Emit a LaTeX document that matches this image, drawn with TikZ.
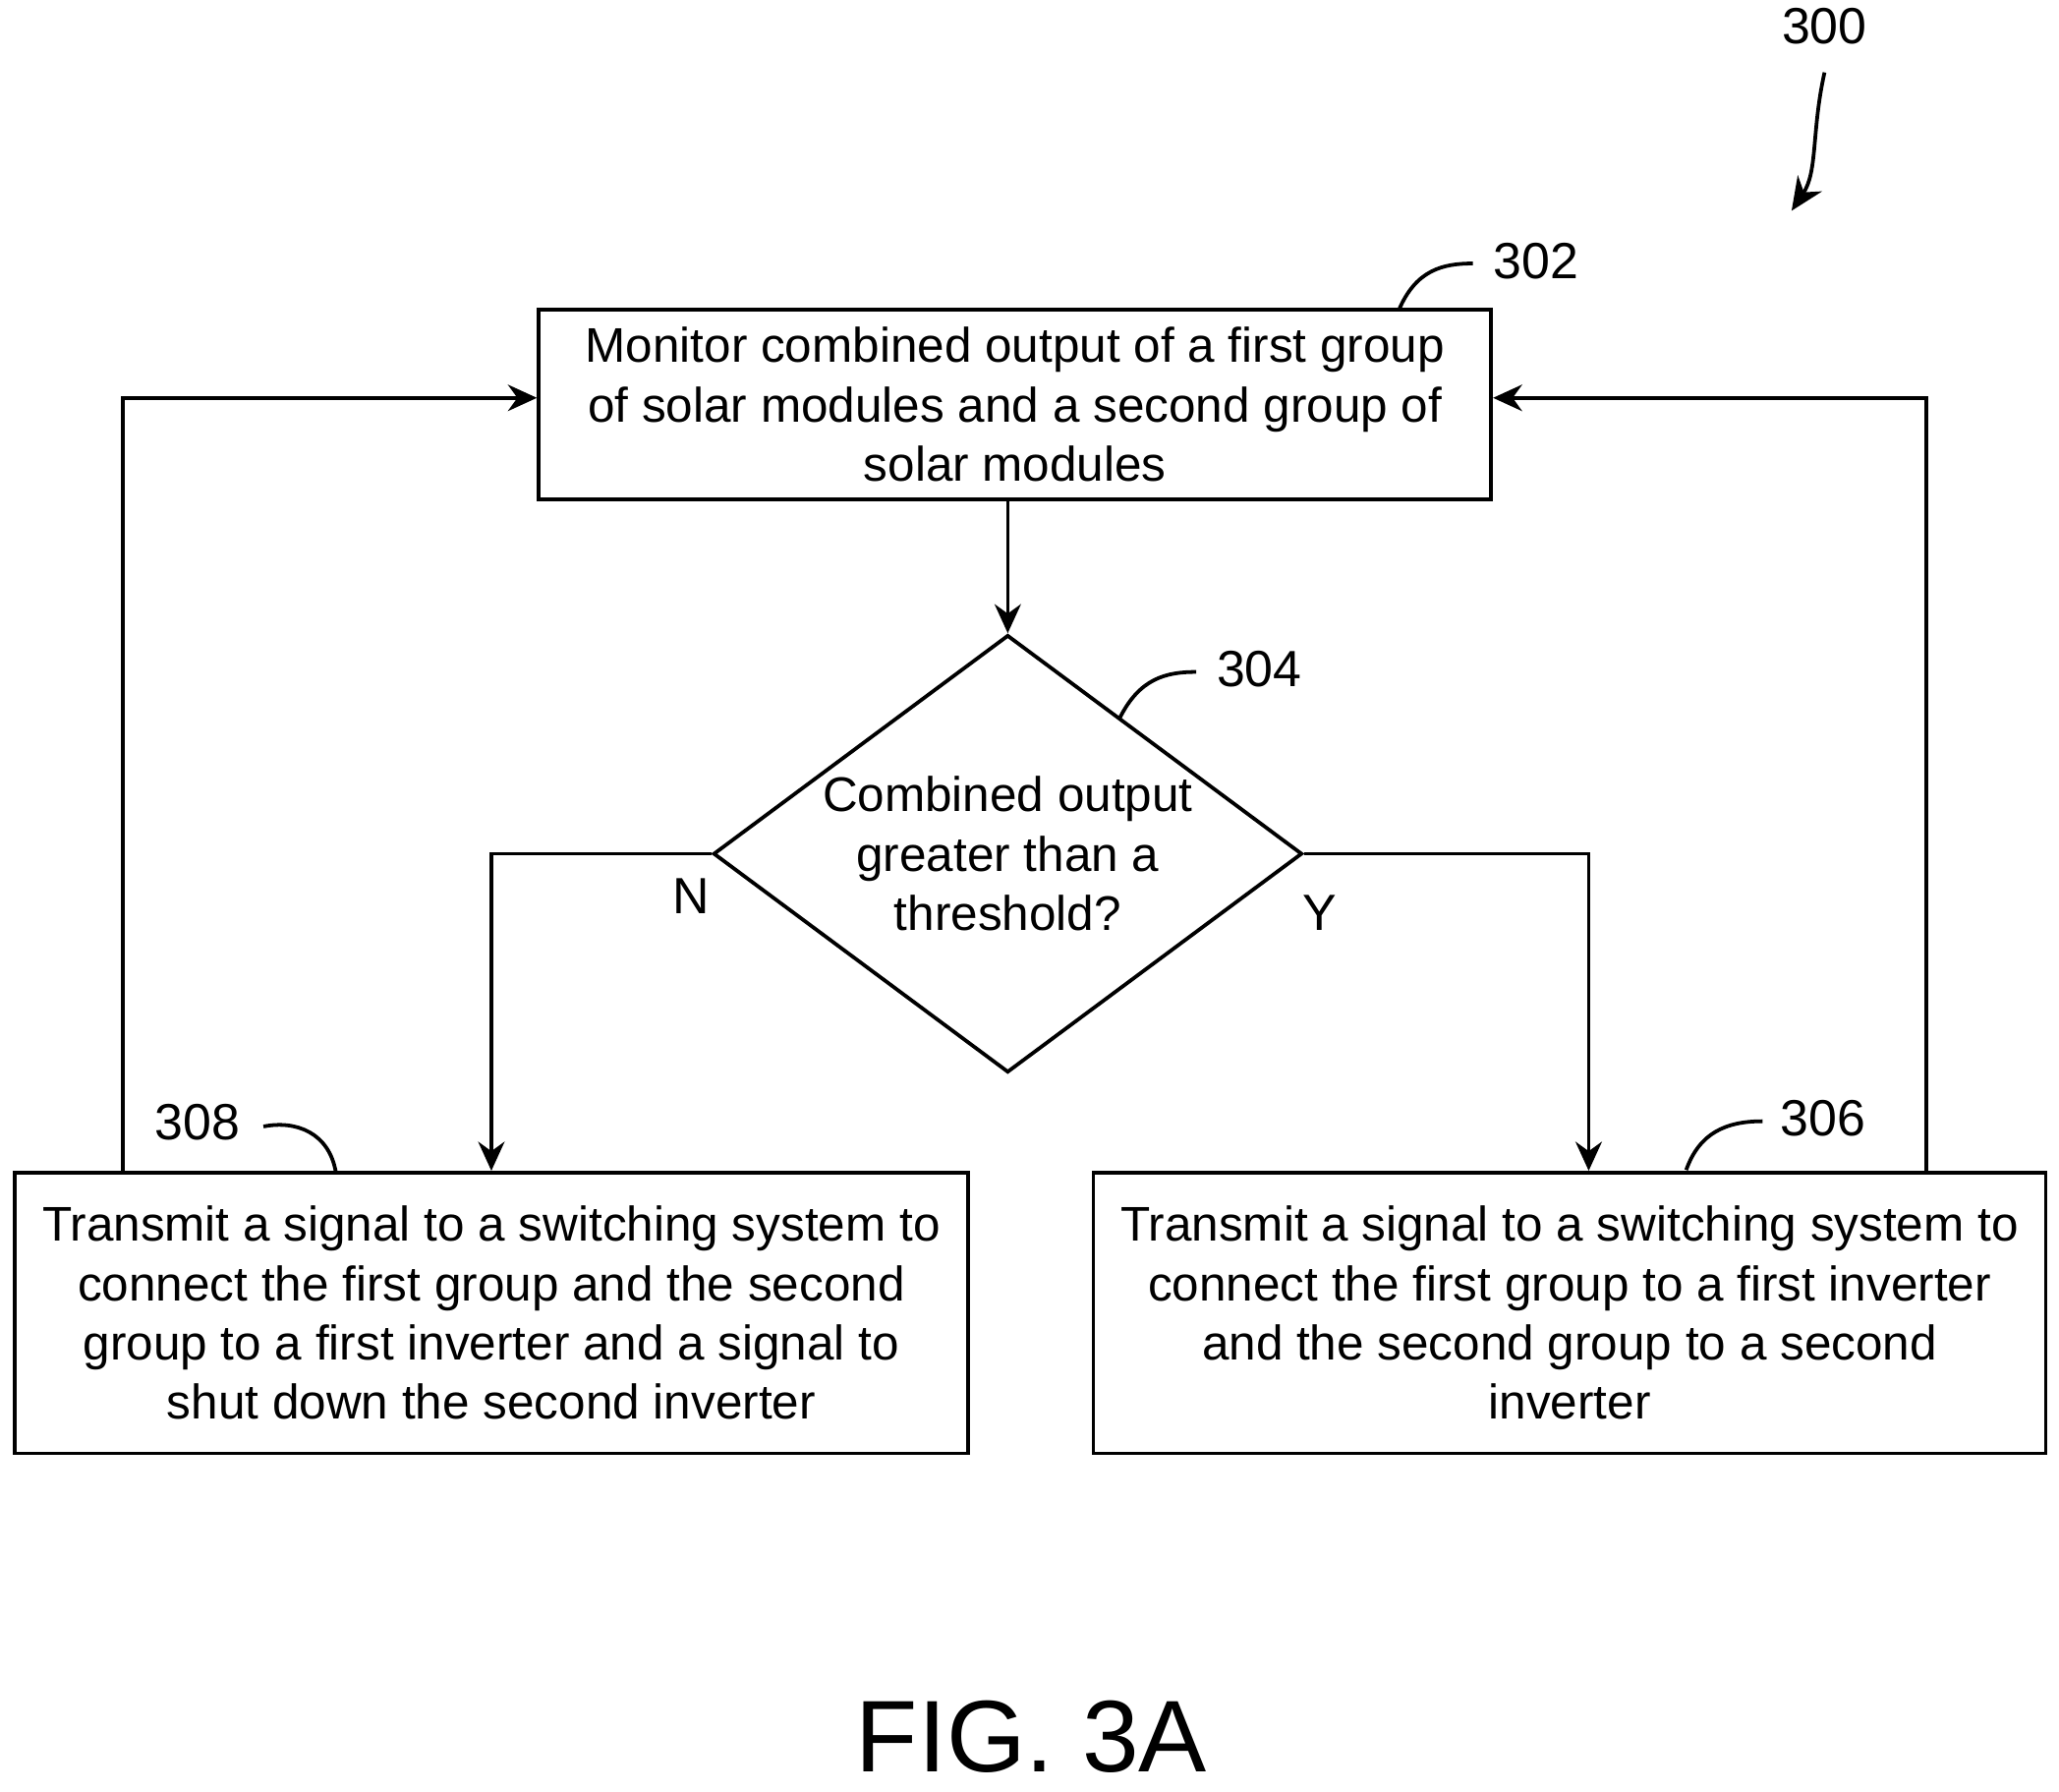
\documentclass[tikz,border=0pt]{standalone}
\usepackage{fontspec}
\setmainfont{Liberation Sans}
\usetikzlibrary{shapes.geometric,arrows.meta}

\begin{document}
\begin{tikzpicture}[x=1cm,y=1cm,
    box/.style={draw,thick,minimum width=7.23cm,align=center,inner sep=0pt,font=\fontsize{10.5}{12.8}\selectfont},
    flow/.style={draw,thick,-{Stealth[length=2.2mm,width=2mm]}},
    refnum/.style={font=\fontsize{11}{13}\selectfont},
    lead/.style={draw,thick}]
  \useasboundingbox (0,0) rectangle (15.63,13.60);

  \node[box,minimum height=1.44cm] (monitor) at (7.705,10.53)
    {Monitor combined output of a first group\\of solar modules and a second group of\\solar modules};
  \node[draw,thick,diamond,minimum width=4.47cm,minimum height=3.32cm,inner sep=0pt] (check) at (7.65,7.12) {};
  \node[align=center,font=\fontsize{10.5}{12.8}\selectfont] (checktxt) at (7.65,7.12)
    {Combined output\\greater than a\\threshold?};
  \node[box,minimum width=7.24cm,minimum height=2.13cm] (shut) at (3.73,3.635)
    {Transmit a signal to a switching system to\\connect the first group and the second\\group to a first inverter and a signal to\\shut down the second inverter};
  \node[box,minimum width=7.23cm,minimum height=2.13cm] (split) at (11.915,3.635)
    {Transmit a signal to a switching system to\\connect the first group to a first inverter\\and the second group to a second\\inverter};

  \coordinate (nturn) at (3.73,7.12);
  \coordinate (yturn) at (12.06,7.12);
  \coordinate (lup) at (0.93,10.58);
  \coordinate (rup) at (14.62,10.58);

  \draw[flow] (monitor.south -| check.north) -- (check.north);
  \draw[flow] (check.west) -- (nturn) -- (shut.north);
  \draw[flow] (check.east) -- (yturn) -- (yturn |- split.north);
  \draw[flow] (shut.north -| lup) -- (lup) -- (lup -| monitor.west);
  \draw[flow] (split.north -| rup) -- (rup) -- (rup -| monitor.east);

  \node[font=\fontsize{11}{13}\selectfont] (nlabel) at (5.25,6.80) {N};
  \node[font=\fontsize{11}{13}\selectfont] (ylabel) at (10.02,6.67) {Y};

  % reference numerals
  \node[refnum] (n300) at (13.85,13.40) {300};
  \node[refnum] (n302) at (11.66,11.62) {302};
  \node[refnum] (n304) at (9.56,8.52) {304};
  \node[refnum] (n308) at (1.50,5.08) {308};
  \node[refnum] (n306) at (13.84,5.11) {306};
  \node[font=\fontsize{22}{26}\selectfont] (fig) at (7.83,0.42) {FIG. 3A};

  \draw[thick,-{Stealth[length=2.5mm,width=2.2mm]}] (13.85,13.05) .. controls (13.75,12.6) and (13.80,12.3) .. (13.60,12.00);
  \draw[lead] (10.62,11.25) .. controls (10.75,11.55) and (10.95,11.60) .. (11.18,11.60);
  \draw[lead] (8.50,8.15) .. controls (8.65,8.45) and (8.85,8.50) .. (9.08,8.50);
  \draw[lead] (2.00,5.05) .. controls (2.25,5.10) and (2.50,5.00) .. (2.55,4.70);
  \draw[lead] (12.80,4.72) .. controls (12.90,5.00) and (13.10,5.09) .. (13.38,5.09);
\end{tikzpicture}
\end{document}
